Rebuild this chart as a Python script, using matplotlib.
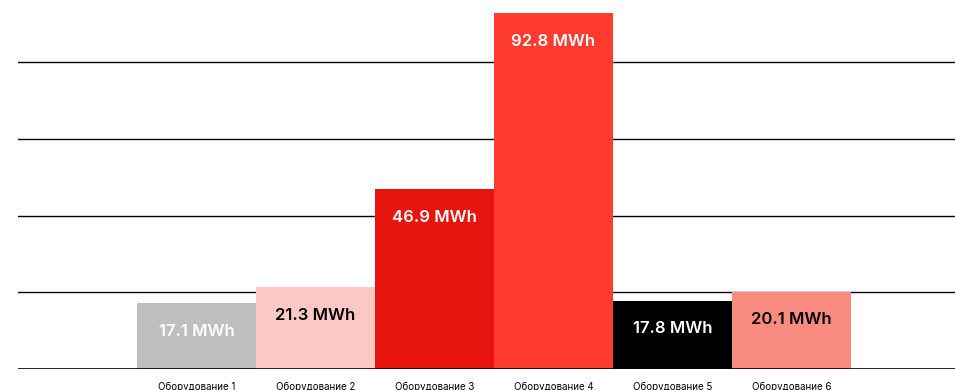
import matplotlib
matplotlib.use("Agg")
import matplotlib.pyplot as plt

# data
categories = ["Оборудование 1", "Оборудование 2", "Оборудование 3",
              "Оборудование 4", "Оборудование 5", "Оборудование 6"]
values = [17.1, 21.3, 46.9, 92.8, 17.8, 20.1]
bar_colors = ["#bfbfbf", "#fbc8c4", "#e8150e", "#ff3a2f", "#000000", "#f98b80"]
text_colors = ["white", "black", "white", "white", "white", "black"]
grid_values = [20, 40, 60, 80]

plt.rcParams['font.family'] = ['Inter', 'DejaVu Sans']

fig = plt.figure(figsize=(9.55, 3.90), dpi=100)
# axes spans from x=18 to right edge, baseline at y=369
ax = fig.add_axes([18 / 955, 21 / 390, 937 / 955, 369 / 390])

x = list(range(len(categories)))
ax.bar(x, values, width=1.0, color=bar_colors, zorder=2)

# horizontal grid lines
for g in grid_values:
    ax.axhline(g, color="black", linewidth=1, zorder=1)
ax.axhline(0, color="black", linewidth=1.2, zorder=3)

# value labels inside the bars, near the top
for xi, v, tc in zip(x, values, text_colors):
    ax.annotate("{} MWh".format(v), xy=(xi, v), xytext=(0, -28),
                textcoords="offset pixels",
                ha="center", va="center", color=tc, fontsize=12,
                fontweight="semibold", zorder=4)

ax.set_xlim(-1.5, 6.374)
ax.set_ylim(0, 96.2)
ax.set_xticks(x)
ax.set_xticklabels(categories, fontsize=7)
ax.tick_params(axis="x", length=0, pad=9)
ax.set_yticks([])
for s in ax.spines.values():
    s.set_visible(False)

fig.savefig("out.png", dpi=100)
